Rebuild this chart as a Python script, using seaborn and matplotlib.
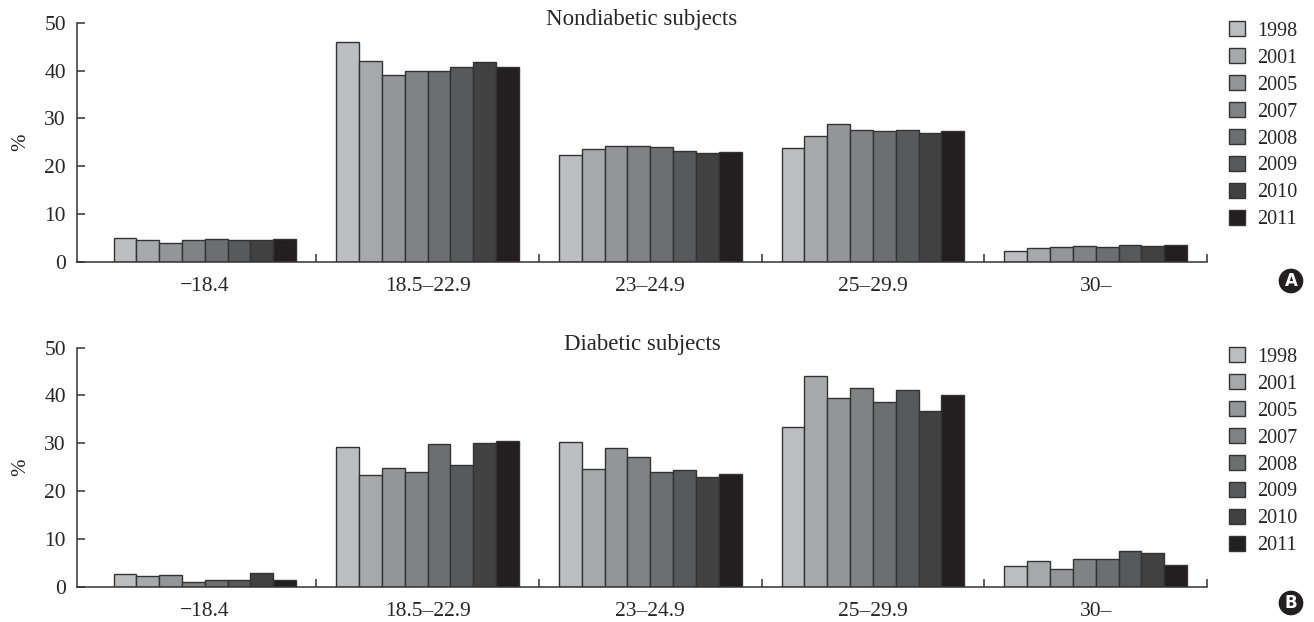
import pandas as pd
import matplotlib
matplotlib.use("Agg")
import matplotlib.pyplot as plt
import seaborn as sns
from matplotlib.patches import Patch

sns.set_theme(style="white")
plt.rcParams['font.family'] = ['Liberation Serif', 'DejaVu Serif']

# --- datos ---
categorias = ['\u221218.4', '18.5\u201322.9', '23\u201324.9', '25\u201329.9', '30\u2013']
anios = ['1998', '2001', '2005', '2007', '2008', '2009', '2010', '2011']
colores = ['#bcbec1', '#a7a8ab', '#939598', '#808285', '#6d6e71', '#58595b', '#414142', '#231f20']

# filas = categorias, columnas = anios
no_diabeticos = [
    [5.0, 4.5, 4.0, 4.5, 4.7, 4.5, 4.5, 4.9],
    [46.0, 42.1, 39.1, 39.9, 40.0, 40.8, 41.8, 40.7],
    [22.3, 23.6, 24.3, 24.3, 24.1, 23.2, 22.8, 23.0],
    [23.9, 26.4, 28.8, 27.5, 27.3, 27.5, 27.0, 27.4],
    [2.2, 2.9, 3.1, 3.3, 3.1, 3.5, 3.3, 3.5],
]
diabeticos = [
    [2.6, 2.2, 2.4, 1.0, 1.5, 1.3, 2.9, 1.4],
    [29.2, 23.4, 24.8, 23.9, 29.9, 25.4, 30.0, 30.5],
    [30.3, 24.6, 29.1, 27.2, 23.9, 24.4, 23.0, 23.6],
    [33.5, 44.1, 39.5, 41.6, 38.6, 41.2, 36.8, 40.0],
    [4.3, 5.3, 3.6, 5.7, 5.7, 7.5, 7.0, 4.5],
]


def a_tabla(valores):
    filas = []
    for cat, fila in zip(categorias, valores):
        for anio, v in zip(anios, fila):
            filas.append({'IMC': cat, 'Anio': anio, 'Porcentaje': v})
    return pd.DataFrame(filas)


fig = plt.figure(figsize=(13.14, 6.22), dpi=100)
ax_a = fig.add_axes([0.0586, 0.5788, 0.86, 0.3847])
ax_b = fig.add_axes([0.0586, 0.0568, 0.86, 0.3842])

paneles = [
    (ax_a, no_diabeticos, 'Nondiabetic subjects', 'A', 281, 32),
    (ax_b, diabeticos, 'Diabetic subjects', 'B', 603, 358),
]

for ax, valores, titulo, letra, y_letra, y_leyenda in paneles:
    df = a_tabla(valores)
    sns.barplot(data=df, x='IMC', y='Porcentaje', hue='Anio', hue_order=anios,
                palette=colores, width=0.82, gap=0, edgecolor='#333333',
                linewidth=1.0, saturation=1, ax=ax, legend=False)

    ax.set_xlim(-0.574, 4.5)
    ax.set_ylim(0, 50)
    ax.set_yticks([0, 10, 20, 30, 40, 50])
    ax.set_xlabel('')
    ax.set_ylabel('%', fontsize=15, labelpad=10)
    sns.despine(ax=ax)
    for lado in ['left', 'bottom']:
        ax.spines[lado].set_color('#333333')
        ax.spines[lado].set_linewidth(1.1)

    ax.tick_params(axis='y', direction='in', length=6, width=1.1, color='#333333',
                   labelsize=15.5, pad=8, left=True)
    ax.tick_params(axis='x', which='major', length=0, labelsize=15.5, pad=11)
    ax.set_xticks([0.5, 1.5, 2.5, 3.5, 4.5], minor=True)
    ax.tick_params(axis='x', which='minor', direction='in', length=6, width=1.1,
                   color='#333333', bottom=True)

    ax.text(0.5, 0.99, titulo, transform=ax.transAxes, ha='center', va='baseline',
            fontsize=16.5)

    handles = [Patch(facecolor=c, edgecolor='#333333', linewidth=1.0) for c in colores]
    ax.legend(handles, anios, loc='upper left', frameon=False, fontsize=14.5,
              bbox_to_anchor=(1229 / 1314, 1 - (y_leyenda - 11) / 622),
              bbox_transform=fig.transFigure, handlelength=0.8, handleheight=0.8,
              handletextpad=0.6, labelspacing=0.36, borderaxespad=0, borderpad=0)

    fig.text(1291 / 1314, 1 - y_letra / 622, letra, ha='center', va='center',
             color='white', fontsize=12, fontweight='bold', family='DejaVu Sans',
             bbox=dict(boxstyle='circle,pad=0.2', facecolor='#231f20', edgecolor='none'))

fig.savefig('out.png', dpi=100)
